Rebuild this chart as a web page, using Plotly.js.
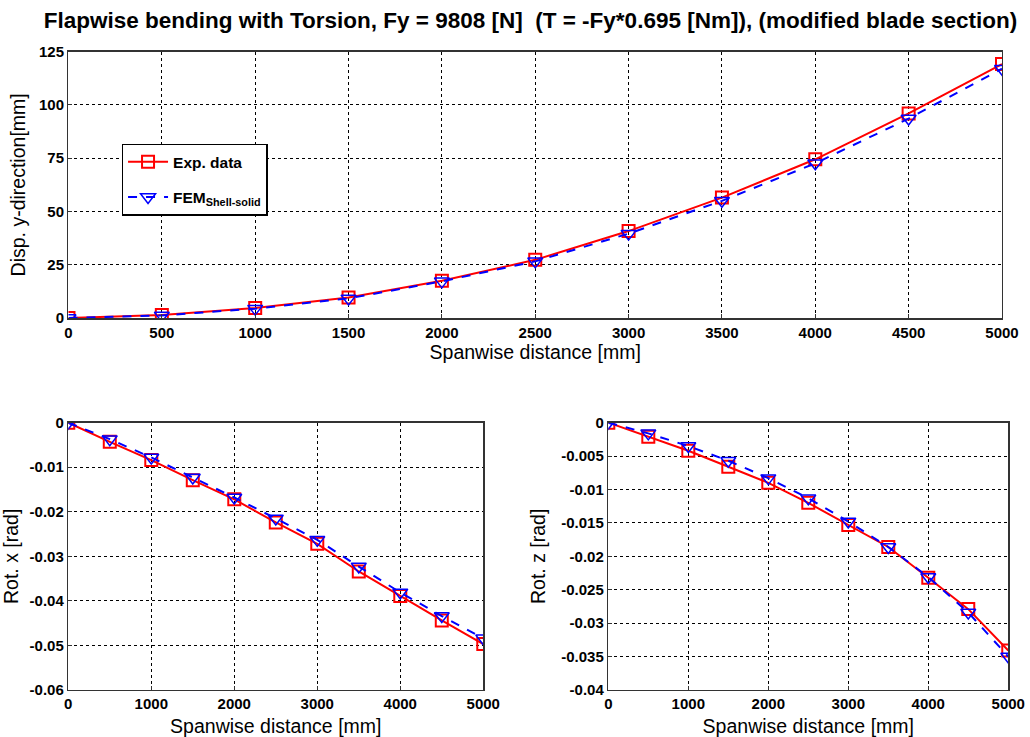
<!DOCTYPE html>
<html>
<head>
<meta charset="utf-8">
<script src="https://cdn.plot.ly/plotly-3.0.1.min.js"></script>
<style>html,body{margin:0;padding:0;background:#fff;}#chart{width:1030px;height:737px;}</style>
</head>
<body>
<div id="chart"></div>
<script>
// ---- data ----
const span = [0, 500, 1000, 1500, 2000, 2500, 3000, 3500, 4000, 4500, 5000];

const dispExp = [0, 1.4, 4.7, 9.6, 17.5, 27.3, 40.8, 56.5, 74.5, 96.0, 119.2];
const dispFem = [0, 1.2, 4.4, 9.2, 17.2, 26.6, 39.6, 55.0, 72.6, 93.6, 117.0];

const rotXExp = [0, -0.0043, -0.0084, -0.0129, -0.0172, -0.0224, -0.0272, -0.0334, -0.0389, -0.0444, -0.0497];
const rotXFem = [0, -0.0037, -0.0078, -0.0123, -0.0168, -0.0215, -0.0263, -0.0323, -0.0381, -0.0434, -0.0484];

const rotZExp = [0, -0.0021, -0.0042, -0.0066, -0.0090, -0.0120, -0.0153, -0.0186, -0.0232, -0.0279, -0.0341];
const rotZFem = [0, -0.0016, -0.0035, -0.0057, -0.0083, -0.0113, -0.0148, -0.0186, -0.0231, -0.0284, -0.0350];

const seriesNames = ["Exp. data", "FEM<sub>Shell-solid</sub>"];

const topXTicks = [0, 500, 1000, 1500, 2000, 2500, 3000, 3500, 4000, 4500, 5000];
const topYTicks = [0, 25, 50, 75, 100, 125];
const botXTicks = [0, 1000, 2000, 3000, 4000, 5000];
const rotXTickVals = [0, -0.01, -0.02, -0.03, -0.04, -0.05, -0.06];
const rotXTickText = ["0", "-0.01", "-0.02", "-0.03", "-0.04", "-0.05", "-0.06"];
const rotZTickVals = [0, -0.005, -0.01, -0.015, -0.02, -0.025, -0.03, -0.035, -0.04];
const rotZTickText = ["0", "-0.005", "-0.01", "-0.015", "-0.02", "-0.025", "-0.03", "-0.035", "-0.04"];

const titleText = "Flapwise bending with Torsion, Fy = 9808 [N]  (T = -Fy*0.695 [Nm]), (modified blade section)";

// ---- styles ----
const RED = "#ff0000", BLUE = "#0000ff";
function expTrace(y, xa, ya, show) {
  return {x: span, y: y, xaxis: xa, yaxis: ya, type: "scatter", mode: "lines+markers",
    name: seriesNames[0], showlegend: show, legendgroup: "exp",
    line: {color: RED, width: 2},
    marker: {symbol: "square-open", size: 12, color: RED, line: {width: 2, color: RED}}};
}
function femTrace(y, xa, ya, show) {
  return {x: span, y: y, xaxis: xa, yaxis: ya, type: "scatter", mode: "lines+markers",
    name: seriesNames[1], showlegend: show, legendgroup: "fem",
    line: {color: BLUE, width: 2, dash: "dash"},
    marker: {symbol: "triangle-down-open", size: 13, color: BLUE, line: {width: 1.5, color: BLUE}}};
}

const data = [
  expTrace(dispExp, "x", "y", true), femTrace(dispFem, "x", "y", true),
  expTrace(rotXExp, "x2", "y2", false), femTrace(rotXFem, "x2", "y2", false),
  expTrace(rotZExp, "x3", "y3", false), femTrace(rotZFem, "x3", "y3", false)
];

const tickFont = {family: "Liberation Sans, Arial, sans-serif", size: 15, color: "#000", weight: "bold"};
const titleFont = {family: "Liberation Sans, Arial, sans-serif", size: 19.5, color: "#000"};

function xaxis(domain, ticks, anchor, standoff) {
  return {domain: domain, anchor: anchor, range: [0, 5000], tickvals: ticks, ticktext: ticks.map(String),
    showgrid: true, gridcolor: "#000", gridwidth: 1, griddash: "3px,3px",
    showline: true, mirror: true, linecolor: "#333", linewidth: 1.5,
    ticks: "inside", ticklen: 4, tickcolor: "#333", zeroline: false,
    tickfont: tickFont, title: {text: "Spanwise distance [mm]", font: titleFont, standoff: standoff}, automargin: false};
}
function yaxis(domain, range, vals, text, title, anchor, standoff) {
  return {domain: domain, anchor: anchor, range: range, tickvals: vals, ticktext: text,
    showgrid: true, gridcolor: "#000", gridwidth: 1, griddash: "3px,3px",
    showline: true, mirror: true, linecolor: "#333", linewidth: 1.5,
    ticks: "inside", ticklen: 4, tickcolor: "#333", zeroline: false,
    tickfont: tickFont, title: {text: title, font: titleFont, standoff: standoff}, automargin: false};
}

const layout = {
  width: 1030, height: 737,
  margin: {l: 0, r: 0, t: 0, b: 0},
  paper_bgcolor: "#fff", plot_bgcolor: "#fff",
  title: {text: "<b>" + titleText + "</b>", x: 0.515, xanchor: "center", y: 0.973, yanchor: "middle",
    font: {family: "Liberation Sans, Arial, sans-serif", size: 22.5, color: "#000"}},
  showlegend: true,
  legend: {x: 0.118, y: 0.805, xanchor: "left", yanchor: "top",
    bgcolor: "#fff", bordercolor: "#000", borderwidth: 1.5,
    font: {family: "Liberation Sans, Arial, sans-serif", size: 15.5, color: "#000", weight: "bold"},
    tracegroupgap: 12, itemwidth: 40},
  xaxis: xaxis([0.0665, 0.9728], topXTicks, "y", 6),
  yaxis: yaxis([0.5685, 0.9299], [0, 125], topYTicks, topYTicks.map(String), "Disp. y-direction[mm]", "x", 8),
  xaxis2: xaxis([0.0663, 0.4692], botXTicks, "y2", 8),
  yaxis2: yaxis([0.0638, 0.4265], [-0.06, 0], rotXTickVals, rotXTickText, "Rot. x [rad]", "x2", 10),
  xaxis3: xaxis([0.5906, 0.9789], botXTicks, "y3", 8),
  yaxis3: yaxis([0.0638, 0.4265], [-0.04, 0], rotZTickVals, rotZTickText, "Rot. z [rad]", "x3", 10)
};

Plotly.newPlot("chart", data, layout, {displayModeBar: false, staticPlot: true});
</script>
</body>
</html>
